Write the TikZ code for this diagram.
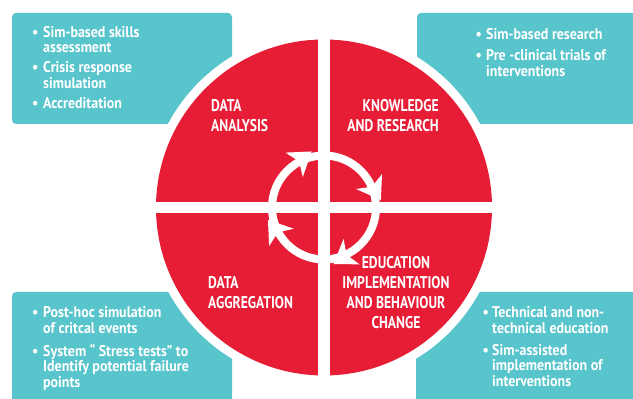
\documentclass[tikz,border=0pt]{standalone}
\usepackage{fontspec}
\usepackage{tikz}
\newfontfamily\dinfont[FakeStretch=0.8]{PT Sans}
\newfontfamily\itemfont[FakeStretch=0.9]{PT Sans}
\definecolor{Teal}{RGB}{88,196,204}
\definecolor{Cred}{RGB}{231,29,54}
\newcommand{\drawwhite}{\fill[white]}
% one white head on the central ring, #1 = angle
\newcommand{\ringhead}[1]{
  \begin{scope}[shift={(324,191.5)},rotate=#1]
    \drawwhite (53,-22)--(67,0)--(52,-6)--(37,0)--cycle;
  \end{scope}
}
\tikzset{
  infobox/.style={fill=Teal, rounded corners=4pt},
  itemlist/.style={inner sep=0pt, text=white, font=\itemfont\bfseries\fontsize{15.5}{14.5}\selectfont},
  quadlabel/.style={inner sep=0pt, text=white, font=\dinfont\bfseries\fontsize{17}{20}\selectfont}
}
\renewcommand{\arraystretch}{1}
\begin{document}
\begin{tikzpicture}[x=1pt,y=1pt]
\useasboundingbox (0,0) rectangle (633,399);
\clip (0,0) rectangle (633,399);
\fill[white] (0,0) rectangle (633,399);
% corner boxes
\fill[infobox] (12,386) rectangle (232,275);
\fill[infobox] (417,386) rectangle (645,275);
\fill[infobox] (12,107) rectangle (232,-10);
\fill[infobox] (416,107) rectangle (645,-10);
% big wheel
\drawwhite (324,191.5) circle[radius=177];
\fill[Cred] (324,191.5) circle[radius=168];
\drawwhite (318,20) rectangle (330,363);
\drawwhite (150,186) rectangle (498,197);
% central ring
\draw[white, line width=8pt] (324,191.5) circle[radius=52];
\ringhead{125}\ringhead{30}\ringhead{-58}\ringhead{215}
% quadrant labels
\node[quadlabel, anchor=base west] (ana) at (211,287)
  {\begin{tabular}[t]{@{}l@{}}DATA\\ANALYSIS\end{tabular}};
\node[quadlabel, anchor=base east] (know) at (439,287)
  {\begin{tabular}[t]{@{}r@{}}KNOWLEDGE\\AND RESEARCH\end{tabular}};
\node[quadlabel, anchor=base] (edu) at (396,130)
  {\begin{tabular}[t]{@{}c@{}}EDUCATION\\IMPLEMENTATION\\AND BEHAVIOUR\\CHANGE\end{tabular}};
\node[quadlabel, anchor=base west] (agg) at (208,110)
  {\begin{tabular}[t]{@{}l@{}}DATA\\AGGREGATION\end{tabular}};
% box texts
\node[itemlist, anchor=base west] (tl) at (32,361)
  {\begin{tabular}[t]{@{}p{11pt}@{}l@{}}\textbullet & Sim-based skills\\ & assessment\\[5pt]
   \textbullet & Crisis response\\ & simulation\\[5pt]
   \textbullet & Accreditation\end{tabular}};
\node[itemlist, anchor=base west] (tr) at (475.5,359)
  {\begin{tabular}[t]{@{}p{10.5pt}@{}l@{}}\textbullet & Sim-based research\\[5.5pt]
   \textbullet & Pre -clinical trials of\\ & interventions\end{tabular}};
\node[itemlist, anchor=base west] (bl) at (32,81)
  {\begin{tabular}[t]{@{}p{11pt}@{}l@{}}\textbullet & Post-hoc simulation\\ & of critcal events\\[6.5pt]
   \textbullet & System “ Stress tests” to\\ & Identify potential failure\\ & points\end{tabular}};
\node[itemlist, anchor=base west] (br) at (482.5,81)
  {\begin{tabular}[t]{@{}p{9.5pt}@{}l@{}}\textbullet & Technical and non-\\ & technical education\\[6.5pt]
   \textbullet & Sim-assisted\\ & implementation of\\ & interventions\end{tabular}};
\end{tikzpicture}
\end{document}
